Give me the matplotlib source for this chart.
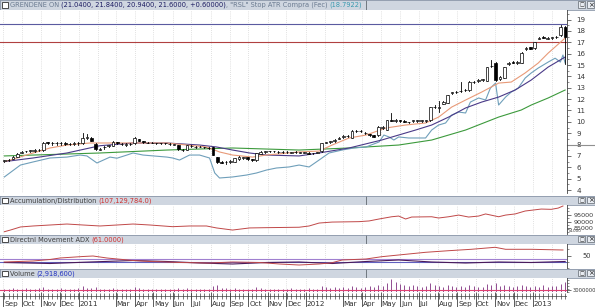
import matplotlib
matplotlib.use('Agg')
import matplotlib.pyplot as plt
import matplotlib.dates as mdates
from matplotlib.patches import Rectangle
from matplotlib.ticker import MultipleLocator
import datetime as dt

# ---------------- data ----------------
start_week = dt.date(2010, 9, 3)
opens = [6.55, 6.60, 6.75, 6.95, 7.30, 7.40, 7.45, 7.40, 7.50, 7.50,
         8.20, 8.10, 8.10, 8.10, 8.15, 8.02, 8.08, 8.10, 8.10, 8.60,
         8.60, 8.05, 7.55, 7.75, 7.90, 7.90, 8.20, 8.05, 8.00, 8.05,
         8.10, 8.45, 8.30, 8.15, 8.15, 8.10, 8.10, 8.10, 8.05, 8.00,
         7.95, 7.50, 7.55, 7.85, 7.80, 7.80, 7.75, 7.70, 7.75, 6.90,
         6.50, 6.45, 6.50, 6.50, 6.70, 6.80, 6.90, 6.70, 6.60, 7.20,
         7.35, 7.40, 7.40, 7.35, 7.35, 7.35, 7.30, 7.35, 7.30, 7.30,
         7.30, 7.25, 7.30, 7.40, 8.15, 8.20, 8.30, 8.50, 8.70, 8.75,
         8.60, 9.20, 9.20, 9.00, 8.90, 8.80, 8.80, 9.45, 9.30, 10.20,
         10.05, 10.15, 10.10, 9.95, 10.05, 10.10, 10.10, 10.10, 10.15, 11.30,
         11.25, 11.60, 11.70, 12.55, 12.60, 12.70, 12.80, 12.80, 13.50, 13.55,
         13.70, 13.60, 14.90, 15.20, 13.80, 13.90, 15.10, 15.30, 15.20, 15.20,
         16.40, 16.55, 16.50, 17.30, 17.50, 17.30, 17.40, 17.45, 17.60, 18.35]
highs = [6.65, 6.75, 7.00, 7.30, 7.45, 7.45, 7.55, 7.60, 7.65, 8.20,
         8.25, 8.25, 8.20, 8.20, 8.20, 8.15, 8.20, 8.20, 9.00, 8.90,
         8.65, 8.10, 7.70, 7.85, 8.00, 8.30, 8.25, 8.15, 8.10, 8.15,
         8.65, 8.50, 8.35, 8.20, 8.20, 8.15, 8.15, 8.15, 8.10, 8.05,
         8.00, 7.60, 8.00, 7.95, 7.90, 7.85, 7.80, 7.75, 7.80, 6.95,
         6.55, 6.55, 6.60, 6.85, 7.00, 6.95, 6.95, 6.75, 7.30, 7.40,
         7.45, 7.45, 7.45, 7.40, 7.40, 7.40, 7.35, 7.40, 7.35, 7.35,
         7.35, 7.30, 7.35, 8.15, 8.25, 8.35, 8.45, 8.65, 8.80, 8.85,
         9.25, 9.30, 9.30, 9.10, 8.95, 8.85, 9.60, 9.60, 10.20, 10.80,
         10.25, 10.20, 10.15, 10.00, 10.20, 10.20, 10.20, 10.20, 11.35, 11.45,
         11.80, 11.80, 12.40, 12.65, 12.70, 13.50, 12.90, 13.55, 13.60, 13.75,
         13.75, 14.85, 15.40, 15.25, 14.00, 14.85, 15.25, 15.35, 15.35, 16.15,
         16.55, 16.60, 17.05, 17.45, 17.55, 17.45, 17.50, 17.55, 18.50, 18.40]
lows = [6.45, 6.55, 6.70, 6.90, 7.25, 7.35, 7.35, 7.35, 7.45, 7.45,
        8.05, 8.00, 8.00, 8.00, 8.00, 7.98, 8.00, 8.00, 8.05, 8.50,
        8.30, 7.55, 7.50, 7.65, 7.80, 7.85, 8.05, 7.95, 7.90, 7.95,
        8.05, 8.30, 8.15, 8.10, 8.10, 8.05, 8.05, 8.05, 8.00, 7.95,
        7.55, 7.40, 7.50, 7.75, 7.70, 7.75, 7.70, 7.65, 7.05, 6.40,
        6.35, 6.30, 6.40, 6.45, 6.65, 6.75, 6.65, 6.55, 6.55, 7.15,
        7.30, 7.35, 7.35, 7.30, 7.30, 7.30, 7.25, 7.30, 7.25, 7.25,
        7.15, 7.20, 7.25, 7.35, 8.10, 8.15, 8.25, 8.45, 8.60, 8.65,
        8.55, 9.10, 9.10, 8.95, 8.75, 8.65, 8.75, 9.40, 9.25, 10.05,
        10.00, 10.00, 9.95, 9.90, 10.00, 10.00, 10.00, 10.00, 10.10, 11.20,
        10.90, 11.55, 11.65, 12.45, 12.50, 12.60, 12.70, 12.75, 13.40, 13.50,
        13.60, 13.55, 14.80, 13.60, 13.70, 13.85, 15.00, 15.15, 15.10, 15.15,
        16.35, 16.40, 16.45, 17.25, 17.35, 17.25, 17.30, 17.35, 17.55, 15.10]
closes = [6.60, 6.65, 6.95, 7.20, 7.35, 7.40, 7.45, 7.55, 7.55, 8.15,
          8.10, 8.10, 8.10, 8.12, 8.05, 8.08, 8.10, 8.10, 8.55, 8.60,
          8.35, 7.60, 7.62, 7.78, 7.90, 8.20, 8.10, 8.05, 8.00, 8.05,
          8.55, 8.35, 8.20, 8.15, 8.15, 8.10, 8.10, 8.10, 8.05, 8.00,
          7.60, 7.55, 7.95, 7.85, 7.80, 7.80, 7.75, 7.70, 7.10, 6.45,
          6.40, 6.45, 6.50, 6.80, 6.95, 6.90, 6.70, 6.60, 7.25, 7.35,
          7.40, 7.40, 7.40, 7.35, 7.35, 7.35, 7.30, 7.35, 7.30, 7.30,
          7.20, 7.25, 7.30, 8.10, 8.20, 8.30, 8.40, 8.60, 8.70, 8.75,
          9.20, 9.20, 9.20, 9.00, 8.80, 8.70, 9.55, 9.55, 10.15, 10.10,
          10.20, 10.05, 10.00, 9.95, 10.15, 10.10, 10.10, 10.10, 11.30, 11.30,
          11.25, 11.75, 12.35, 12.60, 12.60, 12.70, 12.80, 13.50, 13.50, 13.70,
          13.70, 14.80, 14.90, 13.65, 13.95, 14.80, 15.20, 15.20, 15.30, 16.10,
          16.50, 16.45, 17.00, 17.40, 17.40, 17.40, 17.40, 17.45, 18.35, 17.50]

# indicator lines (week index, value)
ma_short_wk = [0, 1.4, 6.6, 10.5, 14.4, 19.7, 25.9, 37.4, 41.9, 46.5, 49.5, 52.5, 57.1, 60.3,
               67.8, 72.4, 75.4, 79.3, 83.2, 87.8, 92.3, 96.9, 99.9, 102.9, 106.1, 109.8,
               113.7, 116.6, 119.8, 122.8, 125.1, 129]
ma_short = [6.5, 6.64, 7.26, 7.7, 7.96, 8.14, 8.14, 8.14, 7.96, 7.79, 7.35, 7.08, 6.9, 7.08,
            7.35, 7.43, 7.96, 8.58, 8.84, 9.46, 9.72, 9.9, 10.42, 11.3, 11.92, 12.62,
            13.41, 13.5, 14.3, 15.17, 16.05, 17.37]
ma_mid_wk = [0, 6.6, 14.4, 22, 29.6, 37.4, 44.9, 48.8, 52.5, 56.4, 60.3, 67.8, 72.4, 79.3,
             86.8, 94.6, 98.3, 102.2, 106.1, 109.8, 113.7, 117.5, 121.2, 125.1, 129]
ma_mid = [6.5, 6.82, 7.26, 7.9, 8.14, 8.14, 7.96, 7.79, 7.52, 7.26, 7.08, 7.0, 7.26, 7.7,
          8.4, 9.28, 9.72, 10.42, 11.22, 11.74, 12.18, 12.8, 13.68, 14.82, 15.7]
ma_long_wk = [0, 22, 37.4, 52.5, 67.8, 79.3, 90.7, 98.3, 106.1, 113.7, 118.9, 121.2, 125.1, 129]
ma_long = [7.0, 7.26, 7.52, 7.7, 7.52, 7.7, 7.96, 8.4, 9.28, 10.42, 11.04, 11.48, 12.1, 12.8]
atr_wk = [0, 3.7, 6.6, 10.5, 14.4, 17.4, 19, 21.3, 24.3, 25.9, 28.2, 29.6, 31.9, 37.4, 38.7,
          40.3, 42.6, 44.9, 47.2, 48.4, 49.5, 52.5, 55.7, 58, 60.3, 62.6, 65.5, 67.8, 70.1,
          72.4, 74.7, 77.7, 80.4, 83.2, 86.2, 87.3, 88.5, 89.6, 90.7, 93, 96.9, 98.3, 99.9,
          101.5, 102.9, 104.5, 106.1, 107.2, 109.1, 110.7, 111.8, 113, 113.7, 115.3, 116.6,
          118.2, 119.8, 121.2, 122.8, 125.1, 126.7, 127.9, 128.5, 129]
atr_stop = [5.15, 6.2, 6.47, 6.82, 6.9, 7.08, 7.0, 6.38, 6.9, 6.8, 7.08, 7.26, 7.08, 6.9, 6.82,
            6.64, 7.08, 7.08, 6.82, 5.5, 5.06, 5.15, 5.32, 5.5, 5.76, 5.94, 6.03, 6.2, 6.03,
            6.64, 7.26, 7.52, 7.7, 7.79, 8.23, 8.84, 8.67, 8.4, 8.67, 8.58, 8.58, 9.28, 9.72,
            9.9, 10.6, 10.86, 10.78, 11.74, 12.1, 11.92, 12.97, 13.41, 11.48, 12.18, 12.62,
            12.97, 13.85, 14.3, 14.73, 15.26, 15.6, 15.26, 15.88, 15.17]
level_blue = 18.6
level_red = 17.0

ad_wk = [0, 1.4, 3.7, 6.6, 10.5, 14.4, 18.1, 22, 25.9, 29.6, 33.5, 38.7, 42.6, 46.5, 48.8,
         52.5, 56.4, 60.3, 67.8, 70.1, 72.4, 75.4, 81.6, 83.9, 86.2, 89.1, 90.7, 92.3, 93.7,
         98.3, 99.9, 102.2, 104.5, 106.8, 109.1, 110.7, 113.7, 115.3, 117.5, 119.8, 123.5,
         125.8, 127.4, 128.5]
ad_vals = [82.7, 83.9, 86.1, 86.8, 87.5, 88.2, 87.5, 86.8, 87.5, 88.2, 87.5, 86.3, 86.8, 86.8,
           85.4, 83.9, 85.4, 85.6, 85.9, 86.8, 88.9, 89.6, 89.9, 90.4, 91.8, 93.4, 93.9, 91.8,
           93.2, 93.4, 92.5, 93.4, 94.6, 93.2, 93.9, 95.4, 93.4, 94.6, 95.4, 97.5, 98.9, 98.7,
           99.6, 101.1]
adx_wk = [0, 6.6, 10.5, 12.8, 18.1, 20.4, 23.6, 29.6, 33.5, 40.3, 47.2, 52.5, 58.7, 63.3,
          67.8, 72.4, 75.4, 77.7, 83.2, 86.8, 90.7, 96.9, 102.2, 107.4, 112.9, 115.3, 121.2, 128.5]
adx_vals = [37, 39, 42, 45, 48, 49, 45, 40, 38, 36, 35, 37, 36, 33, 31, 33, 35.6, 41, 43, 47.6,
            51, 56.4, 59.6, 62.4, 66.4, 62.4, 62.4, 61]
di_wk = [0, 10.5, 19.7, 29.6, 37.4, 44.9, 52.5, 60.3, 67.8, 75.4, 83.2, 90.7, 98.3, 106.1,
         113.7, 121.2, 129]
di_vals = [36, 34, 37, 40, 38, 35, 33, 36, 37, 34, 38, 41, 37, 35, 37, 36, 38]
adx_levels = [42.4, 37.2]

vol = [3, 3, 4, 3, 3, 4, 3, 3, 4, 5, 3, 3, 3, 4, 3, 3, 3, 4, 6, 4,
       4, 5, 3, 3, 3, 4, 3, 3, 3, 3, 5, 4, 3, 3, 3, 3, 3, 3, 3, 3,
       4, 3, 4, 3, 3, 3, 3, 3, 6, 7, 4, 4, 3, 4, 3, 3, 3, 3, 5, 4,
       3, 3, 3, 3, 3, 3, 4, 3, 3, 3, 4, 3, 3, 6, 5, 4, 5, 4, 5, 4,
       6, 5, 4, 5, 6, 5, 7, 6, 9, 13, 10, 8, 7, 6, 7, 6, 5, 6, 9, 7,
       6, 5, 7, 6, 5, 6, 5, 7, 6, 5, 5, 8, 7, 9, 6, 7, 6, 5, 6, 7,
       6, 5, 6, 5, 7, 5, 6, 6, 8, 10]
vol_ma = 2.2

month_labels = ['Sep', 'Oct', 'Nov', 'Dec', '2011', 'Mar', 'Apr', 'May', 'Jun', 'Jul', 'Aug',
                'Sep', 'Oct', 'Nov', 'Dec', '2012', 'Mar', 'Apr', 'May', 'Jun', 'Jul', 'Aug',
                'Sep', 'Oct', 'Nov', 'Dec', '2013']
month_dates = [(2010, 9), (2010, 10), (2010, 11), (2010, 12), (2011, 1), (2011, 3), (2011, 4),
               (2011, 5), (2011, 6), (2011, 7), (2011, 8), (2011, 9), (2011, 10), (2011, 11),
               (2011, 12), (2012, 1), (2012, 3), (2012, 4), (2012, 5), (2012, 6), (2012, 7),
               (2012, 8), (2012, 9), (2012, 10), (2012, 11), (2012, 12), (2013, 1)]

# ---------------- layout helpers ----------------
W, H = 595, 307
fig = plt.figure(figsize=(W / 100, H / 100), dpi=100)
fig.patch.set_facecolor('white')
PLOT_R = 567
HDR = '#cfd6e0'
TXT = '#404040'
FS = 4.8


def ax_px(x0, y0, x1, y1, **kw):
    return fig.add_axes([x0 / W, 1 - y1 / H, (x1 - x0) / W, (y1 - y0) / H], **kw)


def wk2num(w):
    return mdates.date2num(start_week) + 7.0 * w


xmin = mdates.date2num(dt.date(2010, 8, 27))
xmax = mdates.date2num(dt.date(2013, 2, 25))
dates = [wk2num(i) for i in range(len(closes))]
all_months = []
y, m = 2010, 9
while (y, m) <= (2013, 2):
    all_months.append(mdates.date2num(dt.date(y, m, 1)))
    m += 1
    if m > 12:
        y, m = y + 1, 1


def header(y0, y1, pieces):
    a = ax_px(0, y0, W, y1)
    a.set_xlim(0, W)
    a.set_ylim(0, 1)
    a.set_facecolor(HDR)
    for s in a.spines.values():
        s.set_color('#8a96a8')
        s.set_linewidth(0.6)
    a.set_xticks([])
    a.set_yticks([])
    a.add_patch(Rectangle((1.5, 0.2), 6.5, 0.6, facecolor='white', edgecolor='#303030', lw=0.6))
    a.axvline(366, color='#707880', lw=0.7)
    for bx in (578, 587):
        a.add_patch(Rectangle((bx, 0.15), 7, 0.7, facecolor='#e8ecf2', edgecolor='#606870', lw=0.5))
    a.text(581.5, 0.48, '□', fontsize=3.5, ha='center', va='center', color='#202020')
    a.text(590.5, 0.48, '×', fontsize=5, ha='center', va='center', color='#202020')
    fig.canvas.draw()
    r = fig.canvas.get_renderer()
    x = 9.5
    for s, c in pieces:
        t = a.text(x, 0.45, s, fontsize=FS, color=c, va='center', ha='left')
        bb = t.get_window_extent(renderer=r)
        x += bb.width * W / fig.bbox.width
    return a


def setup_plot(a, ylo, yhi, fs=FS + 0.3, pad=4):
    a.set_xlim(xmin, xmax)
    a.set_ylim(ylo, yhi)
    a.set_xticks([])
    a.yaxis.tick_right()
    a.tick_params(axis='y', which='major', labelsize=fs, length=3, width=0.5, pad=pad,
                  colors='#383838')
    a.tick_params(axis='y', which='minor', length=1.5, width=0.4, colors='#383838')
    for s in a.spines.values():
        s.set_visible(False)
    a.spines['right'].set_visible(True)
    a.spines['right'].set_color('#404040')
    a.spines['right'].set_linewidth(0.6)
    for mx in all_months:
        a.axvline(mx, color='#c4c4c4', lw=0.5, ls=(0, (1, 2)), zorder=0)


# ---------------- main price panel ----------------
header(0, 9.5, [('GRENDENE ON ', '#6a7a90'),
                ('(21.0400, 21.8400, 20.9400, 21.6000, +0.60000)', '#1a1a60'),
                (', "RSL" Stop ATR Compra (Fec) ', '#6a7a90'),
                ('(18.7922)', '#3a9ab0')])
axm = ax_px(0, 10, PLOT_R, 193)
setup_plot(axm, 3.74, 19.84)
axm.set_yticks(range(4, 20))
axm.yaxis.set_minor_locator(MultipleLocator(0.5))
axm.axhline(level_blue, color='#5a5aa0', lw=0.8)
axm.axhline(level_red, color='#b04040', lw=0.8)
axm.plot([wk2num(w) for w in ma_long_wk], ma_long, color='#3c9a3c', lw=0.8)
axm.plot([wk2num(w) for w in atr_wk], atr_stop, color='#6f9fba', lw=0.8)
axm.plot([wk2num(w) for w in ma_mid_wk], ma_mid, color='#4a3a88', lw=0.8)
axm.plot([wk2num(w) for w in ma_short_wk], ma_short, color='#e89a78', lw=0.8)
bw = 4.4
for d, o, h, l, c in zip(dates, opens, highs, lows, closes):
    axm.plot([d, d], [l, h], color='black', lw=0.6, zorder=3)
    lo, hi = min(o, c), max(o, c)
    axm.add_patch(Rectangle((d - bw / 2, lo), bw, max(hi - lo, 0.03),
                            facecolor='white' if c >= o else 'black',
                            edgecolor='black', lw=0.5, zorder=4))
axm.plot([1.0, 1.06], [8, 8], transform=axm.get_yaxis_transform(), color='#909090',
         lw=0.8, clip_on=False)

# ---------------- accumulation / distribution ----------------
header(196, 204.5, [('Accumulation/Distribution ', TXT), ('(107,129,784.0)', '#d03030')])
axa = ax_px(0, 205, PLOT_R, 234)
setup_plot(axa, 81.07, 101.8, fs=4.6, pad=1.5)
axa.set_yticks([85.7, 90, 95])
axa.set_yticklabels(['85000', '90000', '95000'])
axa.yaxis.set_minor_locator(MultipleLocator(2.5))
axa.text(1.003, 81.5, 'x1000', transform=axa.get_yaxis_transform(), fontsize=3.0,
         color='#383838', ha='left', va='bottom', clip_on=False)
axa.plot([wk2num(w) for w in ad_wk], ad_vals, color='#c04848', lw=0.7)

# ---------------- ADX ----------------
header(235, 243.5, [('Directnl Movement ADX ', TXT), ('(61.0000)', '#d03030')])
axd = ax_px(0, 244, PLOT_R, 268)
setup_plot(axd, 25, 73, fs=4.8, pad=8)
axd.set_yticks([50])
axd.yaxis.set_minor_locator(MultipleLocator(12.5))
axd.axhline(adx_levels[0], color='#a080d0', lw=0.8)
axd.axhline(adx_levels[1], color='#6060c0', lw=0.8)
axd.plot([wk2num(w) for w in di_wk], di_vals, color='#4a1a5a', lw=0.8)
axd.plot([wk2num(w) for w in adx_wk], adx_vals, color='#c04848', lw=0.7)

# ---------------- volume ----------------
header(269, 277.5, [('Volume ', TXT), ('(2,918,600)', '#2030c0')])
axv = ax_px(0, 278, PLOT_R, 292)
setup_plot(axv, 0, 14, fs=3.8, pad=1)
axv.set_yticks([2.5])
axv.set_yticklabels(['3000000'])
axv.yaxis.set_minor_locator(MultipleLocator(3))
axv.vlines(dates, 0, vol, color='#803080', lw=0.6)
axv.axhline(vol_ma, color='#e04070', lw=0.8)

# ---------------- date axis ----------------
axx = ax_px(0, 292, PLOT_R, 307)
axx.set_xlim(xmin, xmax)
axx.set_ylim(0, 1)
axx.axis('off')
axx.vlines(dates, 0.55, 0.95, color='#404040', lw=0.5)
axx.axhline(0.75, color='#404040', lw=0.5)
for lab, (yy, mm) in zip(month_labels, month_dates):
    mx = mdates.date2num(dt.date(yy, mm, 1))
    axx.vlines([mx], 0.0, 1.0, color='#404040', lw=0.6)
    axx.text(mx + 1.5, 0.22, lab, fontsize=FS + 0.4, color='#303030', va='center', ha='left')

fig.savefig('out.png', dpi=100)
